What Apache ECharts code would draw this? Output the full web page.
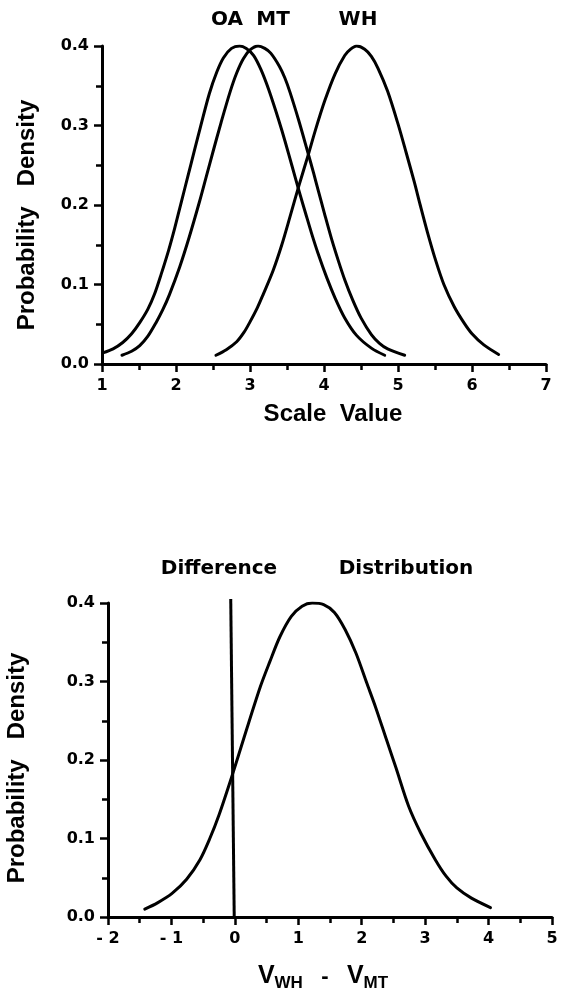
<!DOCTYPE html>
<html>
<head>
<meta charset="utf-8">
<script src="https://cdn.jsdelivr.net/npm/echarts@6/dist/echarts.min.js"></script>
<style>
html,body{margin:0;padding:0;background:#fff;}
#chart{width:563px;height:999px;}
</style>
</head>
<body>
<div id="chart"></div>
<script>
// ---- data ----
const oaCurve = [[1.01,0.014],[1.15,0.019],[1.28,0.027],[1.40,0.038],[1.51,0.052],[1.62,0.069],[1.71,0.088],[1.80,0.113],[1.90,0.143],[1.98,0.170],[2.07,0.203],[2.16,0.236],[2.25,0.269],[2.33,0.298],[2.45,0.340],[2.55,0.367],[2.64,0.385],[2.75,0.397],[2.86,0.400],[2.95,0.397],[3.05,0.388],[3.15,0.370],[3.25,0.346],[3.35,0.318],[3.43,0.294],[3.52,0.265],[3.61,0.235],[3.68,0.212],[3.75,0.190],[3.83,0.165],[3.92,0.139],[4.04,0.108],[4.15,0.083],[4.28,0.058],[4.44,0.036],[4.64,0.020],[4.82,0.011]];
const mtCurve = [[1.27,0.011],[1.40,0.016],[1.51,0.023],[1.62,0.035],[1.73,0.052],[1.82,0.068],[1.91,0.087],[2.05,0.122],[2.18,0.160],[2.32,0.205],[2.41,0.236],[2.50,0.267],[2.61,0.304],[2.73,0.342],[2.82,0.366],[2.91,0.384],[3.00,0.395],[3.11,0.400],[3.20,0.397],[3.28,0.391],[3.40,0.374],[3.47,0.360],[3.54,0.342],[3.66,0.306],[3.77,0.270],[3.86,0.240],[3.92,0.219],[4.01,0.188],[4.10,0.158],[4.19,0.131],[4.28,0.106],[4.39,0.080],[4.50,0.058],[4.64,0.037],[4.75,0.026],[4.86,0.019],[5.09,0.011]];
const whCurve = [[2.54,0.011],[2.68,0.018],[2.82,0.028],[2.92,0.040],[3.00,0.053],[3.10,0.071],[3.18,0.088],[3.31,0.117],[3.43,0.150],[3.54,0.185],[3.66,0.224],[3.79,0.264],[3.88,0.293],[4.01,0.331],[4.15,0.365],[4.28,0.388],[4.36,0.396],[4.44,0.400],[4.55,0.396],[4.64,0.387],[4.73,0.372],[4.86,0.343],[5.00,0.302],[5.11,0.266],[5.22,0.229],[5.30,0.200],[5.40,0.165],[5.51,0.130],[5.62,0.100],[5.76,0.072],[5.89,0.052],[6.00,0.038],[6.16,0.024],[6.36,0.012]];
const diffCurve = [[-1.42,0.010],[-1.22,0.018],[-0.99,0.030],[-0.76,0.048],[-0.55,0.073],[-0.40,0.099],[-0.25,0.130],[-0.04,0.181],[0.15,0.230],[0.40,0.293],[0.55,0.325],[0.71,0.357],[0.89,0.383],[1.06,0.396],[1.22,0.400],[1.40,0.398],[1.57,0.388],[1.74,0.366],[1.91,0.336],[2.08,0.298],[2.22,0.267],[2.39,0.226],[2.54,0.190],[2.74,0.141],[2.93,0.107],[3.16,0.073],[3.33,0.052],[3.50,0.037],[3.73,0.024],[4.03,0.012]];
const zeroLine = [[-0.065,0.405],[-0.01,0.0]];

const topXTicks = ['1','2','3','4','5','6','7'];
const topXMin = 1, topXMax = 7;
const diffXTicks = ['- 2','- 1','0','1','2','3','4','5'];
const diffXMin = -2, diffXMax = 5;
const yTicks = ['0.0','0.1','0.2','0.3','0.4'];
const yMin = 0, yMax = 0.4;

const curveLabels = ['OA','MT','WH'];
const topTitle = 'Scale  Value';
const yTitle = 'Probability   Density';
const diffTitleParts = ['Difference','Distribution'];

// ---- styles ----
const TICK_FONT = 'DejaVu Sans';
const HEAD_FONT = 'DejaVu Sans';
const AXIS_TITLE_FONT = 'Liberation Sans';
const black = '#000';

function xAxisCfg(gridIndex, min, max, labels){
  return {
    type:'value', gridIndex, min, max, interval:1,
    axisLine:{show:true, onZero:false, lineStyle:{color:black, width:3}},
    axisTick:{show:true, length:8, lineStyle:{color:black, width:2.5}},
    minorTick:{show:true, splitNumber:2, length:6, lineStyle:{color:black, width:2.5}},
    splitLine:{show:false}, minorSplitLine:{show:false},
    axisLabel:{show:true, margin:14, color:black, fontFamily:TICK_FONT, fontWeight:'bold', fontSize:16,
      formatter:(v)=>labels[Math.round(v-min)]}
  };
}
function yAxisCfg(gridIndex){
  return {
    type:'value', gridIndex, min:yMin, max:yMax, interval:0.1,
    axisLine:{show:true, onZero:false, lineStyle:{color:black, width:3}},
    axisTick:{show:true, length:8, lineStyle:{color:black, width:2.5}},
    minorTick:{show:true, splitNumber:2, length:6, lineStyle:{color:black, width:2.5}},
    splitLine:{show:false}, minorSplitLine:{show:false},
    axisLabel:{show:true, margin:13, color:black, fontFamily:TICK_FONT, fontWeight:'bold', fontSize:16,
      formatter:(v)=>yTicks[Math.round(v*10)]}
  };
}
function curve(data, xi, yi){
  return {type:'line', xAxisIndex:xi, yAxisIndex:yi, data, symbol:'none', smooth:0.3,
    lineStyle:{color:black, width:3, join:'round', cap:'round'}, silent:true, animation:false};
}

const chart = echarts.init(document.getElementById('chart'), null, {renderer:'canvas'});
chart.setOption({
  backgroundColor:'#fff',
  animation:false,
  grid:[
    {left:102, top:46, width:444, height:318},
    {left:108, top:603, width:444, height:314}
  ],
  xAxis:[ xAxisCfg(0, topXMin, topXMax, topXTicks), xAxisCfg(1, diffXMin, diffXMax, diffXTicks) ],
  yAxis:[ yAxisCfg(0), yAxisCfg(1) ],
  series:[
    curve(oaCurve,0,0), curve(mtCurve,0,0), curve(whCurve,0,0),
    curve(diffCurve,1,1),
    {type:'line', xAxisIndex:1, yAxisIndex:1, data:zeroLine, symbol:'none', clip:false,
      lineStyle:{color:black, width:3}, silent:true}
  ],
  graphic:[
    {type:'text', x:227, y:20, style:{text:curveLabels[0], align:'center', verticalAlign:'middle', font:'bold 20px "'+HEAD_FONT+'"', fill:black}},
    {type:'text', x:273, y:20, style:{text:curveLabels[1], align:'center', verticalAlign:'middle', font:'bold 20px "'+HEAD_FONT+'"', fill:black}},
    {type:'text', x:358, y:20, style:{text:curveLabels[2], align:'center', verticalAlign:'middle', font:'bold 20px "'+HEAD_FONT+'"', fill:black}},
    {type:'text', x:333, y:414, style:{text:topTitle, align:'center', verticalAlign:'middle', font:'bold 24px "'+AXIS_TITLE_FONT+'"', fill:black}},
    {type:'text', x:27, y:215, rotation:Math.PI/2, style:{text:yTitle, align:'center', verticalAlign:'middle', font:'bold 24px "'+AXIS_TITLE_FONT+'"', fill:black}},
    {type:'text', x:17, y:768, rotation:Math.PI/2, style:{text:yTitle, align:'center', verticalAlign:'middle', font:'bold 24px "'+AXIS_TITLE_FONT+'"', fill:black}},
    {type:'text', x:219, y:569, style:{text:diffTitleParts[0], align:'center', verticalAlign:'middle', font:'bold 20px "'+HEAD_FONT+'"', fill:black}},
    {type:'text', x:406, y:569, style:{text:diffTitleParts[1], align:'center', verticalAlign:'middle', font:'bold 20px "'+HEAD_FONT+'"', fill:black}},
    {type:'text', x:323, y:978, style:{
      text:'{v|V}{s|WH}{m|   -   }{v|V}{s|MT}', align:'center', verticalAlign:'middle',
      rich:{
        v:{fontFamily:AXIS_TITLE_FONT, fontWeight:'bold', fontSize:25, fill:black, color:black, verticalAlign:'bottom', padding:[0,0,3,0]},
        s:{fontFamily:AXIS_TITLE_FONT, fontWeight:'bold', fontSize:17, fill:black, color:black, verticalAlign:'bottom'},
        m:{fontFamily:AXIS_TITLE_FONT, fontWeight:'bold', fontSize:22, fill:black, color:black, verticalAlign:'bottom', padding:[0,0,4,0]}
      }
    }}
  ]
});
</script>
</body>
</html>
